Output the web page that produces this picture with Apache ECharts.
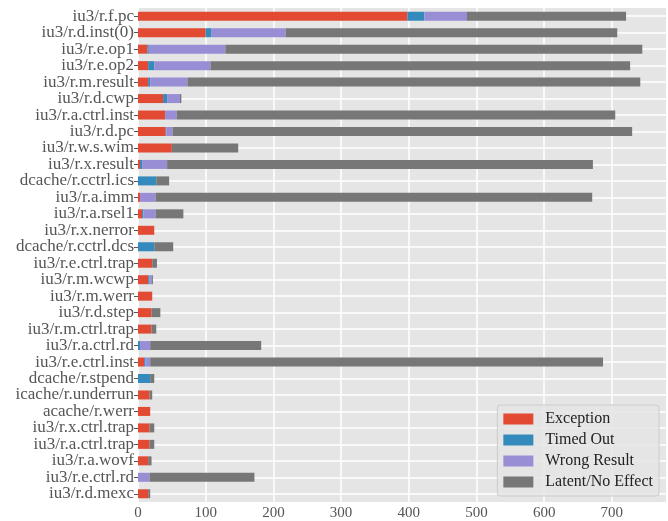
<!DOCTYPE html>
<html>
<head>
<meta charset="utf-8">
<script src="https://cdn.jsdelivr.net/npm/echarts@6/dist/echarts.min.js"></script>
<style>
  html, body { margin: 0; padding: 0; background: #fff; }
  #chart_001 { width: 668px; height: 521px; }
</style>
</head>
<body>
<div id="chart_001"></div>
<script>
// categories, top to bottom as in the picture
var categories = [
  'iu3/r.f.pc', 'iu3/r.d.inst(0)', 'iu3/r.e.op1', 'iu3/r.e.op2', 'iu3/r.m.result',
  'iu3/r.d.cwp', 'iu3/r.a.ctrl.inst', 'iu3/r.d.pc', 'iu3/r.w.s.wim', 'iu3/r.x.result',
  'dcache/r.cctrl.ics', 'iu3/r.a.imm', 'iu3/r.a.rsel1', 'iu3/r.x.nerror', 'dcache/r.cctrl.dcs',
  'iu3/r.e.ctrl.trap', 'iu3/r.m.wcwp', 'iu3/r.m.werr', 'iu3/r.d.step', 'iu3/r.m.ctrl.trap',
  'iu3/r.a.ctrl.rd', 'iu3/r.e.ctrl.inst', 'dcache/r.stpend', 'icache/r.underrun', 'acache/r.werr',
  'iu3/r.x.ctrl.trap', 'iu3/r.a.ctrl.trap', 'iu3/r.a.wovf', 'iu3/r.e.ctrl.rd', 'iu3/r.d.mexc'
];
var exception   = [398, 100, 14, 15, 15, 37, 40, 41, 50, 3, 0, 3, 6, 24, 0, 21, 15, 21, 20, 20, 0, 9, 0, 17, 18, 17, 17, 15, 0, 15];
var timedOut    = [25, 8, 2, 9, 3, 6, 0, 1, 0, 3, 27, 0, 2, 0, 24, 0, 2, 0, 0, 0, 3, 2, 18, 0, 0, 0, 0, 0, 0, 0];
var wrongResult = [63, 110, 113, 83, 55, 19, 17, 9, 0, 37, 0, 23, 18, 0, 0, 0, 3, 0, 0, 0, 15, 7, 0, 0, 0, 0, 0, 0, 17, 0];
var latent      = [235, 490, 616, 620, 669, 2, 648, 679, 98, 629, 19, 645, 41, 0, 28, 7, 2, 0, 13, 7, 164, 669, 6, 4, 0, 7, 7, 5, 155, 3];
var xTicks = [0, 100, 200, 300, 400, 500, 600, 700];

var names = ['Exception', 'Timed Out', 'Wrong Result', 'Latent/No Effect'];
var colors = ['#E24A33', '#348ABD', '#988ED5', '#777777'];
var seriesData = [exception, timedOut, wrongResult, latent];
var font = 'Liberation Serif';

var myChart = echarts.init(document.getElementById('chart_001'));

var option = {
    animation: false,
    backgroundColor: '#ffffff',
    textStyle: { fontFamily: font },
    grid: {
        left: 138, right: 2, top: 8, bottom: 19,
        show: true, backgroundColor: '#E5E5E5', borderWidth: 0
    },
    legend: {
        data: names,
        orient: 'vertical',
        right: 9, bottom: 25,
        itemWidth: 30, itemHeight: 11, itemGap: 5,
        padding: [6, 6, 6, 6],
        backgroundColor: 'rgba(229,229,229,0.85)',
        borderColor: '#CCCCCC', borderWidth: 1, borderRadius: 3,
        icon: 'rect',
        textStyle: { fontFamily: font, fontSize: 16, color: '#222222', padding: [0, 0, 0, 7] }
    },
    xAxis: {
        type: 'value',
        min: 0, max: 780, interval: 100,
        axisLine: { show: false },
        axisTick: { show: true, length: 4, customValues: xTicks, lineStyle: { color: '#555555' } },
        axisLabel: { fontFamily: font, fontSize: 15, color: '#555555', margin: 4, customValues: xTicks },
        splitLine: { show: true, lineStyle: { color: '#ffffff', width: 1.5 } }
    },
    yAxis: [{
        type: 'category',
        inverse: true,
        data: categories,
        axisLine: { show: false },
        axisTick: { show: true, alignWithLabel: true, length: 4, lineStyle: { color: '#555555' } },
        axisLabel: { fontFamily: font, fontSize: 17, color: '#555555', margin: 4, interval: 0 },
        splitLine: { show: false }
    }, {
        // helper axis: white grid lines through the middle of each category row
        type: 'value',
        inverse: true,
        position: 'left',
        min: -0.5, max: 29.5, interval: 0.5,
        axisLine: { show: false },
        axisTick: { show: false },
        axisLabel: { show: false },
        splitLine: { show: true, lineStyle: { color: ['rgba(0,0,0,0)', '#ffffff'], width: 1.5 } }
    }],
    series: names.map(function (n, i) {
        return {
            name: n,
            type: 'bar',
            stack: 'total',
            yAxisIndex: 0,
            barWidth: 9,
            itemStyle: { color: colors[i] },
            data: seriesData[i]
        };
    })
};

myChart.setOption(option);
</script>
</body>
</html>
